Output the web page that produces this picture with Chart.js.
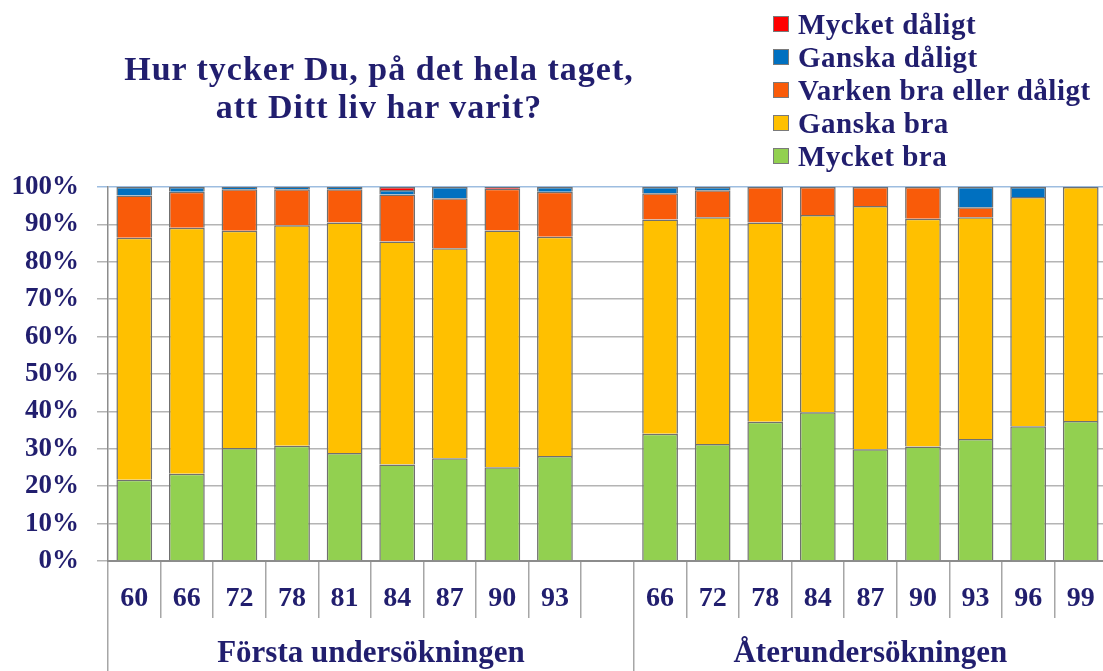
<!DOCTYPE html>
<html>
<head>
<meta charset="utf-8">
<script src="https://cdn.jsdelivr.net/npm/chart.js@4/dist/chart.umd.min.js"></script>
<style>
    body { margin: 0; overflow: hidden; background: #fff; }
    #wrap { position: relative; width: 1107px; height: 671px; }
    #title {
        position: absolute; left: 0; top: 50px; width: 758px;
        text-align: center; font: bold 34px "Liberation Serif", serif;
        letter-spacing: 1px; line-height: 38px; color: #211e6e;
    }
    #legend {
        position: absolute; left: 773px; top: 8px;
        font: bold 29px "Liberation Serif", serif; letter-spacing: 0.5px; color: #211e6e;
    }
    #legend div { height: 33px; line-height: 33px; white-space: nowrap; }
    #legend span {
        display: inline-block; width: 14px; height: 14px; margin-right: 9px;
        border: 1px solid #7a7a7a; vertical-align: 2px;
    }
</style>
</head>
<body>
<div id="wrap">
    <canvas id="lifeChart"></canvas>
    <div id="title">Hur tycker Du, på det hela taget,<br>att Ditt liv har varit?</div>
    <div id="legend"></div>
</div>
<script>
const labels = ['60', '66', '72', '78', '81', '84', '87', '90', '93', '',
    '66', '72', '78', '84', '87', '90', '93', '96', '99'];
const groups = ['Första undersökningen', 'Återundersökningen'];

// percent of answers
const mycketBra    = [21.7, 23.3, 30.2, 30.8, 28.9, 25.8, 27.5, 25.1, 28.1, null, 34.0, 31.3, 37.2, 39.8, 29.9, 30.6, 32.6, 36.0, 37.4];
const ganskaBra    = [64.7, 65.8, 58.1, 59.0, 61.6, 59.6, 56.1, 63.3, 58.6, null, 57.3, 60.6, 53.3, 52.7, 65.0, 60.9, 59.3, 61.3, 62.6];
const varken       = [11.3, 9.6, 11.1, 9.6, 8.9, 12.6, 13.4, 11.1, 12.0, null, 7.0, 7.2, 9.5, 7.5, 5.1, 8.5, 2.7, 0, 0];
const ganskaDaligt = [2.3, 1.3, 0.6, 0.6, 0.6, 1.2, 3.0, 0, 1.3, null, 1.7, 0.9, 0, 0, 0, 0, 5.4, 2.7, 0];
const mycketDaligt = [0, 0, 0, 0, 0, 0.8, 0, 0.5, 0, null, 0, 0, 0, 0, 0, 0, 0, 0, 0];

const yTicks = [0, 10, 20, 30, 40, 50, 60, 70, 80, 90, 100];

const navy = '#211e6e';
const serif = '"Liberation Serif", serif';

function series(label, data, color) {
    return {
        label: label,
        data: data,
        backgroundColor: color,
        borderColor: '#707070',
        borderWidth: 1.5,
        barPercentage: 0.68,
        categoryPercentage: 1
    };
}

const datasets = [
    series('Mycket bra', mycketBra, '#92d050'),
    series('Ganska bra', ganskaBra, '#ffc000'),
    series('Varken bra eller dåligt', varken, '#f95b09'),
    series('Ganska dåligt', ganskaDaligt, '#0070c0'),
    series('Mycket dåligt', mycketDaligt, '#ff0000')
];

const ctx = document.getElementById('lifeChart').getContext('2d');
const lifeChart = new Chart(ctx, {
    type: 'bar',
    data: { labels: labels, datasets: datasets },
    options: {
        responsive: true,
        maintainAspectRatio: false,
        animation: false,
        layout: { padding: { top: 187, left: 0, right: 0, bottom: 0 } },
        plugins: {
            legend: { display: false },
            tooltip: { enabled: false }
        },
        scales: {
            x: {
                stacked: true,
                grid: {
                    offset: true,
                    drawOnChartArea: false,
                    tickLength: 57,
                    color: '#a6a6a6',
                    lineWidth: 1.5
                },
                border: { color: '#8c8c8c', width: 2 },
                ticks: {
                    color: navy,
                    font: { family: serif, size: 28, weight: 'bold' },
                    padding: -36,
                    maxRotation: 0,
                    autoSkip: false
                },
                afterFit: scale => { scale.height = 57; }
            },
            // group row under the years: long separators and group names
            x2: {
                type: 'linear',
                position: 'bottom',
                offset: false,
                min: -0.5,
                max: labels.length - 0.5,
                afterBuildTicks: scale => {
                    scale.ticks = [-0.5, 4.5, 9.5, 14, labels.length - 0.5].map(v => ({ value: v }));
                },
                grid: {
                    offset: false,
                    drawOnChartArea: false,
                    tickLength: 60,
                    lineWidth: 1.5,
                    color: c => (c.index % 2 === 1 ? 'rgba(0,0,0,0)' : '#a6a6a6')
                },
                border: { display: false },
                ticks: {
                    color: navy,
                    font: { family: serif, size: 31, weight: 'bold' },
                    padding: -43,
                    maxRotation: 0,
                    autoSkip: false,
                    callback: (v, i) => (i === 1 ? groups[0] : i === 3 ? groups[1] : '')
                },
                afterFit: scale => { scale.height = 53; }
            },
            y: {
                stacked: true,
                min: 0,
                max: 100,
                afterBuildTicks: scale => {
                    scale.ticks = yTicks.map(v => ({ value: v }));
                },
                grid: {
                    color: c => (c.tick && c.tick.value === 100 ? '#9dbde0' : '#b4b4b4'),
                    lineWidth: 1.5,
                    tickLength: 11
                },
                border: { color: '#8c8c8c', width: 1.5 },
                ticks: {
                    color: navy,
                    font: { family: serif, size: 27, weight: 'bold' },
                    padding: 18,
                    callback: v => v + '%'
                },
                afterFit: scale => { scale.width = 108; }
            }
        }
    }
});

// legend, most negative answer on top
const legendBox = document.getElementById('legend');
datasets.slice().reverse().forEach(ds => {
    const row = document.createElement('div');
    const swatch = document.createElement('span');
    swatch.style.background = ds.backgroundColor;
    row.appendChild(swatch);
    row.appendChild(document.createTextNode(ds.label));
    legendBox.appendChild(row);
});
</script>
</body>
</html>
